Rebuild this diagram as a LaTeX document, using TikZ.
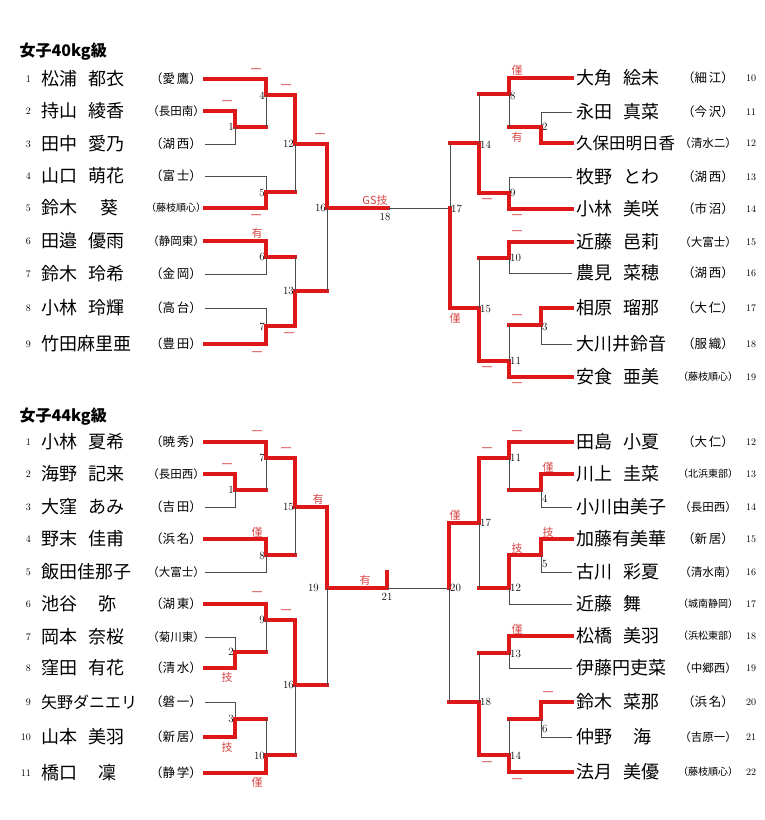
\documentclass[tikz,border=0pt]{standalone}
\usepackage{fontspec}
\newfontfamily\jp{Noto Sans CJK JP}
\definecolor{wred}{RGB}{222,24,24}
\definecolor{lred}{RGB}{215,70,70}
\tikzset{
  win/.style={wred,line width=4pt,line cap=rect},
  lose/.style={black!70,line width=1pt},
  res/.style={lred,font=\jp\fontsize{11}{11}\selectfont,inner sep=0pt},
  mnum/.style={font=\fontsize{11}{11}\selectfont,inner sep=1pt},
  pname/.style={anchor=west,font=\jp\fontsize{18}{18}\selectfont,inner sep=0pt},
  pnum/.style={font=\fontsize{10}{10}\selectfont,inner sep=0pt},
  school/.style={font=\jp\fontsize{12.5}{12.5}\selectfont,inner sep=0pt},
}
\newcommand\gap{\hspace{0.6em}}
\newcommand\sg{\hspace{0.15em}}
\newcommand\sm[1]{{\fontsize{11.5}{11.5}\selectfont #1}}
\newcommand\xs[1]{{\fontsize{10}{10}\selectfont #1}}
\begin{document}
\begin{tikzpicture}[x=1pt,y=-1pt]
\useasboundingbox (0,0) rectangle (764,820);
% titles
\node[anchor=west,font=\jp\bfseries\fontsize{16}{16}\selectfont] (t40) at (16,52) {女子40kg級};
\node[anchor=west,font=\jp\bfseries\fontsize{16}{16}\selectfont] (t44) at (16,417) {女子44kg級};
% left players
\foreach \n/\y/\nm/\sc in {
  1/79/松浦\gap 都衣/（愛\sg 鷹）, 2/111/持山\gap 綾香/\sm{（長田南）}, 3/144/田中\gap 愛乃/（湖\sg 西）,
  4/176/山口\gap 萌花/（富\sg 士）, 5/208/鈴木\hspace{1.3em}葵/\xs{（藤枝順心）}, 6/241/田邉\gap 優雨/\sm{（静岡東）},
  7/274/鈴木\gap 玲希/（金\sg 岡）, 8/308/小林\gap 玲輝/（高\sg 台）, 9/344/竹田麻里亜/（豊\sg 田）,
  1/442/小林\gap 夏希/（暁\sg 秀）, 2/474/海野\gap 記来/\sm{（長田西）}, 3/507/大窪\gap あみ/（吉\sg 田）,
  4/539/野末\gap 佳甫/（浜\sg 名）, 5/572/飯田佳那子/\sm{（大富士）}, 6/604/池谷\hspace{1.2em}弥/（湖\sg 東）,
  7/637/岡本\gap 奈桜/\sm{（菊川東）}, 8/668/窪田\gap 有花/（清\sg 水）, 9/702/{\fontsize{16}{16}\selectfont 矢野ダニエリ}/（磐\sg 一）,
  10/737/山本\gap 美羽/（新\sg 居）, 11/773/橋口\hspace{1.2em}凜/（静\sg 学）}{
  \node[pnum,anchor=east] (ln\n-\y) at (31,\y) {\n};
  \node[pname] (lp\n-\y) at (41,\y) {\nm};
  \node[school] (ls\n-\y) at (176,\y) {\sc};
}
% right players
\foreach \n/\y/\nm/\sc in {
  10/78/大角\gap 絵未/（細\sg 江）, 11/112/永田\gap 真菜/（今\sg 沢）, 12/143/{\fontsize{16.5}{16.5}\selectfont 久保田明日香}/\sm{（清水二）},
  13/177/牧野\gap とわ/（湖\sg 西）, 14/209/小林\gap 美咲/（市\sg 沼）, 15/242/近藤\gap 邑莉/\sm{（大富士）},
  16/273/農見\gap 菜穂/（湖\sg 西）, 17/308/相原\gap 瑠那/（大\sg 仁）, 18/344/大川井鈴音/（服\sg 織）,
  19/377/安食\gap 亜美/\xs{（藤枝順心）},
  12/442/田島\gap 小夏/（大\sg 仁）, 13/474/川上\gap 圭菜/\xs{（北浜東部）}, 14/507/小川由美子/\sm{（長田西）},
  15/539/加藤有美華/（新\sg 居）, 16/572/古川\gap 彩夏/\sm{（清水南）}, 17/604/近藤\gap 舞/\xs{（城南静岡）},
  18/636/松橋\gap 美羽/\xs{（浜松東部）}, 19/668/伊藤円吏菜/\sm{（中郷西）}, 20/702/鈴木\gap 菜那/（浜\sg 名）,
  21/737/仲野\hspace{1.2em}海/\sm{（吉原一）}, 22/772/法月\gap 美優/\xs{（藤枝順心）}}{
  \node[pname] (rp\n-\y) at (576,\y) {\nm};
  \node[school] (rs\n-\y) at (708,\y) {\sc};
  \node[pnum] (rn\n-\y) at (751,\y) {\n};
}
% ---- 40kg left
\draw[win] (205,111) -| (235,127) -- (266,127);
\draw[lose] (205,144) -| (235,127);
\draw[win] (205,79) -| (266,95) -- (295,95);
\draw[lose] (266,127) -- (266,95);
\draw[lose] (205,176) -| (266,192);
\draw[win] (205,208) -| (266,192) -- (295,192);
\draw[win] (205,241) -| (266,257) -- (295,257);
\draw[lose] (205,274) -| (266,257);
\draw[lose] (205,308) -| (266,326);
\draw[win] (205,344) -| (266,326) -- (295,326);
\draw[win] (295,95) -- (295,144) -- (327,144);
\draw[lose] (295,192) -- (295,144);
\draw[win] (295,326) -- (295,291) -- (327,291);
\draw[lose] (295,257) -- (295,291);
\draw[win] (327,144) -- (327,208) -- (388,208);
\draw[lose] (327,291) -- (327,208);
\draw[lose] (388,208) -- (450,208);
% ---- 40kg right
\draw[lose] (572,112) -| (541,127);
\draw[win] (572,143) -| (541,127) -- (509,127);
\draw[win] (572,78) -| (509,94) -- (479,94);
\draw[lose] (509,127) -- (509,94);
\draw[lose] (572,177) -| (509,193);
\draw[win] (572,209) -| (509,193) -- (479,193);
\draw[win] (572,242) -| (509,258) -- (479,258);
\draw[lose] (572,273) -| (509,258);
\draw[win] (572,308) -| (541,325) -- (509,325);
\draw[lose] (572,344) -| (541,325);
\draw[win] (572,377) -| (509,361) -- (479,361);
\draw[lose] (509,325) -- (509,361);
\draw[win] (479,193) -- (479,143) -- (450,143);
\draw[lose] (479,94) -- (479,143);
\draw[win] (479,361) -- (479,308) -- (450,308);
\draw[lose] (479,258) -- (479,308);
\draw[win] (450,308) -- (450,208);
\draw[lose] (450,143) -- (450,208);
% ---- 44kg left
\draw[win] (205,474) -| (235,490) -- (266,490);
\draw[lose] (205,507) -| (235,490);
\draw[win] (205,442) -| (266,458) -- (295,458);
\draw[lose] (266,490) -- (266,458);
\draw[win] (205,539) -| (266,555) -- (295,555);
\draw[lose] (205,572) -| (266,555);
\draw[lose] (205,637) -| (235,652);
\draw[win] (205,668) -| (235,652) -- (266,652);
\draw[win] (205,604) -| (266,620) -- (295,620);
\draw[lose] (266,652) -- (266,620);
\draw[lose] (205,702) -| (235,719);
\draw[win] (205,737) -| (235,719) -- (266,719);
\draw[win] (205,773) -| (266,755) -- (295,755);
\draw[lose] (266,719) -- (266,755);
\draw[win] (295,458) -- (295,507) -- (327,507);
\draw[lose] (295,555) -- (295,507);
\draw[win] (295,620) -- (295,685) -- (327,685);
\draw[lose] (295,755) -- (295,685);
\draw[win] (327,507) -- (327,588) -- (387,588) -- (387,572);
\draw[lose] (327,685) -- (327,588);
\draw[lose] (387,588) -- (449,588);
% ---- 44kg right
\draw[win] (572,474) -| (541,490) -- (509,490);
\draw[lose] (572,507) -| (541,490);
\draw[win] (572,442) -| (509,458) -- (479,458);
\draw[lose] (509,490) -- (509,458);
\draw[win] (572,539) -| (541,555) -- (509,555);
\draw[lose] (572,572) -| (541,555);
\draw[win] (509,555) -- (509,588) -- (479,588);
\draw[lose] (572,604) -| (509,588);
\draw[win] (479,458) -- (479,523) -- (449,523);
\draw[lose] (479,588) -- (479,523);
\draw[win] (572,636) -| (509,653) -- (479,653);
\draw[lose] (572,668) -| (509,653);
\draw[win] (572,702) -| (541,719) -- (509,719);
\draw[lose] (572,737) -| (541,719);
\draw[win] (572,772) -| (509,755) -- (479,755);
\draw[lose] (509,719) -- (509,755);
\draw[win] (479,755) -- (479,702) -- (449,702);
\draw[lose] (479,653) -- (479,702);
\draw[win] (449,523) -- (449,588);
\draw[lose] (449,702) -- (449,588);
% results
\foreach \x/\y/\t in {256/71/一, 227/103/一, 286/87/一, 256/217/一, 257/233/有, 257/354/一,
  289/335/一, 320/136/一, 375/200/GS技, 517/70/僅, 517/137/有, 487/201/一, 517/217/一,
  517/233/一, 517/317/一, 517/385/一, 487/369/一, 455/318/僅,
  227/466/一, 257/433/一, 286/450/一, 257/532/僅, 318/499/有, 257/594/一, 286/612/一,
  227/677/技, 227/747/技, 257/782/僅, 365/580/有,
  548/467/僅, 517/433/一, 487/450/一, 548/532/技, 517/548/技, 455/515/僅, 517/629/僅,
  548/694/一, 517/781/一, 487/764/一}
  \node[res] at (\x,\y) {\t};
% match numbers
\foreach \x/\y/\t in {235/127/1, 266/96/4, 266/193/5, 266/257/6, 266/327/7, 295/144/12,
  295/291/13, 327/208/16, 235/490/1, 266/458/7, 266/556/8, 235/652/2, 266/620/9, 235/719/3,
  266/756/10, 295/507/15, 295/685/16, 320/588/19}
  \node[mnum,anchor=east] at (\x,\y) {\t};
\foreach \x/\y/\t in {541/127/2, 509/96/8, 509/193/9, 509/258/10, 541/327/3, 509/361/11,
  479/145/14, 479/309/15, 450/209/17, 541/499/4, 509/458/11, 541/564/5, 509/588/12,
  479/523/17, 449/588/20, 509/654/13, 541/729/6, 509/756/14, 479/702/18}
  \node[mnum,anchor=west] at (\x,\y) {\t};
\node[mnum] at (385,217) {18};
\node[mnum] at (387,597) {21};
\end{tikzpicture}
\end{document}
